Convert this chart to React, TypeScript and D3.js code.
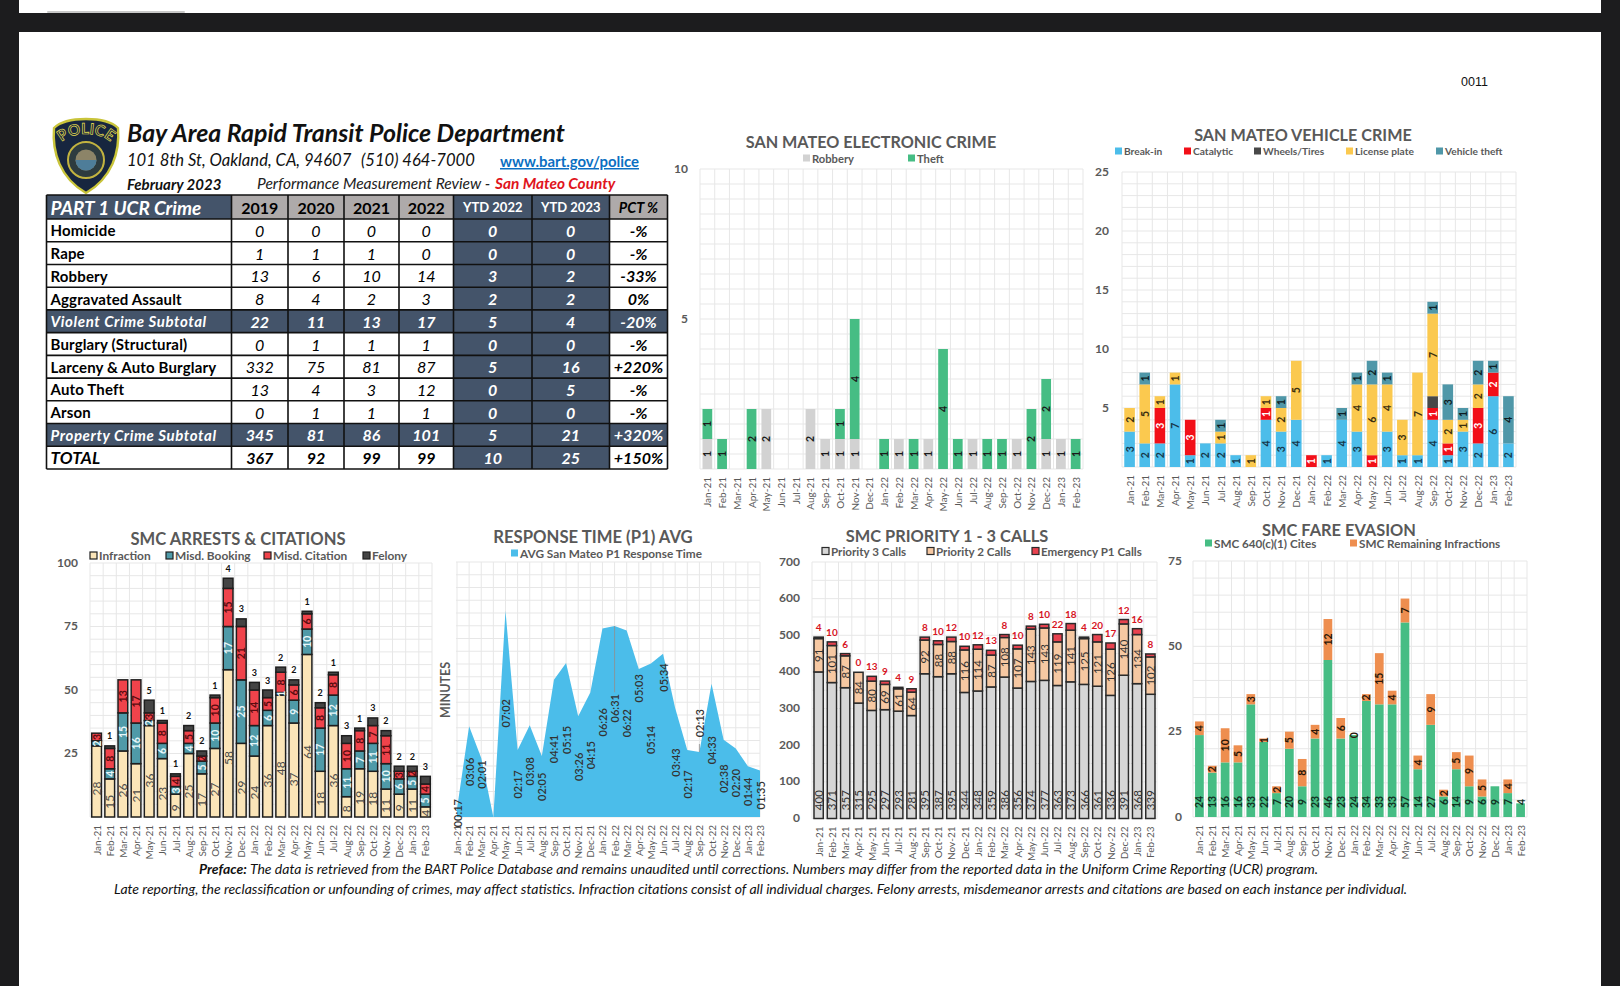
import { useEffect, useRef } from 'react';
import * as d3 from 'd3';

const months = [
  'Jan-21', 'Feb-21', 'Mar-21', 'Apr-21', 'May-21', 'Jun-21', 'Jul-21', 'Aug-21', 'Sep-21', 'Oct-21', 'Nov-21', 'Dec-21',
  'Jan-22', 'Feb-22', 'Mar-22', 'Apr-22', 'May-22', 'Jun-22', 'Jul-22', 'Aug-22', 'Sep-22', 'Oct-22', 'Nov-22', 'Dec-22',
  'Jan-23', 'Feb-23',
];

// UCR table
const ucrRows = ['Homicide', 'Rape', 'Robbery', 'Aggravated Assault', 'Violent Crime Subtotal', 'Burglary (Structural)', 'Larceny & Auto Burglary', 'Auto Theft', 'Arson', 'Property Crime Subtotal', 'TOTAL'];
const ucrHeaders = ['PART 1 UCR Crime', '2019', '2020', '2021', '2022', 'YTD 2022', 'YTD 2023', 'PCT %'];
const ucr2019 = ['0', '1', '13', '8', '22', '0', '332', '13', '0', '345', '367'];
const ucr2020 = ['0', '1', '6', '4', '11', '1', '75', '4', '1', '81', '92'];
const ucr2021 = ['0', '1', '10', '2', '13', '1', '81', '3', '1', '86', '99'];
const ucr2022 = ['0', '0', '14', '3', '17', '1', '87', '12', '1', '101', '99'];
const ucrYtd2022 = ['0', '0', '3', '2', '5', '0', '5', '0', '0', '5', '10'];
const ucrYtd2023 = ['0', '0', '2', '2', '4', '0', '16', '5', '0', '21', '25'];
const ucrPct = ['-%', '-%', '-33%', '0%', '-20%', '-%', '+220%', '-%', '-%', '+320%', '+150%'];

// Electronic crime
const robberyCounts = [1, 0, 0, 0, 2, 0, 0, 2, 1, 1, 1, 0, 0, 1, 0, 1, 0, 0, 1, 0, 0, 1, 0, 1, 1, 0];
const theftCounts = [1, 1, 0, 2, 0, 0, 0, 0, 0, 1, 4, 0, 1, 0, 1, 0, 4, 1, 0, 1, 1, 0, 2, 2, 0, 1];

// Vehicle crime
const breakInCounts = [3, 2, 2, 7, 1, 2, 2, 1, 0, 4, 3, 4, 0, 1, 4, 3, 0, 3, 1, 1, 4, 1, 3, 2, 6, 2];
const catalyticCounts = [0, 0, 3, 0, 3, 0, 0, 0, 0, 1, 0, 0, 1, 0, 0, 0, 1, 0, 0, 0, 1, 1, 0, 3, 2, 0];
const wheelsCounts = [0, 0, 0, 0, 0, 0, 0, 0, 0, 0, 0, 0, 0, 0, 0, 0, 0, 0, 0, 0, 1, 0, 0, 0, 0, 0];
const plateCounts = [2, 5, 1, 1, 0, 0, 1, 0, 1, 1, 2, 5, 0, 0, 0, 4, 6, 4, 3, 7, 7, 2, 1, 2, 0, 0];
const vehicleTheftCounts = [0, 1, 0, 0, 0, 0, 1, 0, 0, 0, 1, 0, 0, 0, 1, 1, 2, 1, 0, 0, 1, 3, 1, 2, 1, 4];

// Arrests and citations
const infractionCounts = [28, 15, 26, 21, 36, 23, 9, 25, 17, 27, 58, 29, 24, 36, 48, 37, 64, 18, 36, 8, 19, 18, 11, 9, 11, 4];
const bookingCounts = [2, 4, 15, 16, 2, 6, 3, 4, 5, 10, 17, 25, 12, 6, 1, 9, 10, 17, 12, 11, 7, 11, 10, 6, 5, 5];
const citationCounts = [3, 8, 13, 17, 3, 8, 4, 5, 2, 10, 15, 21, 14, 5, 8, 6, 6, 8, 8, 10, 8, 7, 11, 3, 2, 4];
const felonyCounts = [0, 1, 0, 0, 5, 1, 1, 2, 2, 1, 4, 3, 3, 3, 2, 2, 1, 2, 1, 3, 1, 3, 2, 2, 2, 3];

// Response time, mm:ss
const responseTimes = ['00:17', '03:06', '02:01', '00:00', '07:02', '02:17', '03:08', '02:05', '04:41', '05:15', '03:26', '04:15', '06:26', '06:31', '06:22', '05:03', '05:14', '05:34', '03:43', '02:17', '02:13', '04:33', '02:38', '02:20', '01:44', '01:35'];
// height (minutes) where the hand-moved label sits in the source chart
const responseLabelAt = [0.13, 1.54, 1.45, 0, 3.54, 1.11, 1.56, 1.03, 2.32, 2.63, 1.71, 2.11, 3.23, 3.71, 3.2, 4.39, 2.63, 4.76, 1.86, 1.11, 3.2, 2.28, 1.31, 1.16, 0.86, 0.74];

// Calls
const p3Calls = [400, 371, 357, 315, 295, 297, 293, 281, 395, 387, 395, 344, 348, 359, 386, 356, 374, 377, 363, 373, 366, 361, 336, 391, 368, 339];
const p2Calls = [91, 101, 87, 84, 80, 69, 61, 64, 92, 88, 88, 116, 114, 87, 108, 107, 143, 143, 119, 141, 125, 121, 126, 140, 134, 102];
const p1Calls = [4, 10, 6, 0, 13, 9, 4, 9, 8, 10, 12, 10, 12, 13, 8, 10, 8, 10, 22, 18, 4, 20, 17, 12, 16, 8];

// Fare evasion (null = no label in the source)
const fareCites = [24, 13, 16, 16, 33, 22, 7, 20, 9, 23, 46, 23, 24, 34, 33, 33, 57, 14, 27, 6, 14, 9, 6, 9, 7, 4];
const fareOther: (number | null)[] = [4, 2, 10, 5, 3, 1, 2, 5, 8, 4, 12, 6, 0, 2, 15, 4, 7, 4, 9, 2, 5, 9, 5, null, 4, null];

const FONT = 'Lato, sans-serif';
const GRAY = '#595959';

interface Series {
  name: string;
  values: (number | null)[];
  color: string;
  legendX: number;
  labelFill?: string;
  labelSize?: number;
  labelWeight?: string;
  keepZero?: boolean;
  above?: boolean;
  labelAt?: (v: number) => number;
}

interface BarChart {
  title: string;
  titleX: number;
  titleY: number;
  titleSize: number;
  legendY: number;
  legendSize: number;
  x0: number;
  x1: number;
  y0: number;
  y1: number;
  max: number;
  gridStep: number;
  ticks: number[];
  tickX: number;
  pad: number;
  outline?: string;
  series: Series[];
}

type Sel = d3.Selection<any, unknown, null, undefined>;

function drawFrame(g: Sel, c: { title: string; titleX: number; titleY: number; titleSize: number; x0: number; x1: number; y0: number; y1: number; max: number; gridStep: number }) {
  const y = d3.scaleLinear().domain([0, c.max]).range([c.y1, c.y0]);
  d3.range(0, c.max + c.gridStep / 2, c.gridStep).forEach(v => {
    g.append('line').attr('x1', c.x0).attr('x2', c.x1).attr('y1', y(v)).attr('y2', y(v)).attr('stroke', '#e7e7e7').attr('stroke-width', 1);
  });
  g.append('text')
    .attr('x', c.titleX).attr('y', c.titleY).attr('text-anchor', 'middle').attr('dominant-baseline', 'central')
    .attr('font-size', c.titleSize).attr('font-weight', 700).attr('fill', GRAY)
    .text(c.title);
  return y;
}

function drawMonths(g: Sel, xs: (m: string) => number, y1: number) {
  months.forEach(m => {
    g.append('text')
      .attr('transform', `translate(${xs(m)},${y1 + 8}) rotate(-90)`)
      .attr('text-anchor', 'end').attr('dominant-baseline', 'central')
      .attr('font-size', 10).attr('fill', GRAY)
      .text(m);
  });
}

function drawLegendItem(g: Sel, x: number, y: number, name: string, color: string, size: number, outline?: string) {
  g.append('rect').attr('x', x).attr('y', y - 3.5).attr('width', 7).attr('height', 7).attr('fill', color)
    .attr('stroke', outline ?? 'none').attr('stroke-width', outline ? 1.2 : 0);
  g.append('text').attr('x', x + 9).attr('y', y).attr('dominant-baseline', 'central')
    .attr('font-size', size).attr('font-weight', 700).attr('fill', GRAY).text(name);
}

function drawBarChart(svg: Sel, c: BarChart) {
  const g = svg.append('g').attr('font-family', FONT);
  const y = drawFrame(g, c);

  const band = d3.scaleBand<string>().domain(months).range([c.x0, c.x1]).paddingInner(c.pad).paddingOuter(c.pad / 2);
  d3.range(0, months.length + 1).forEach(i => {
    const vx = c.x0 + (i * (c.x1 - c.x0)) / months.length;
    g.append('line').attr('x1', vx).attr('x2', vx).attr('y1', c.y0).attr('y2', c.y1).attr('stroke', '#e7e7e7');
  });

  c.ticks.forEach(t => {
    g.append('text').attr('x', c.tickX).attr('y', y(t) - 1).attr('text-anchor', 'end').attr('dominant-baseline', 'central')
      .attr('font-size', 12).attr('font-weight', 700).attr('fill', GRAY).text(t);
  });

  const rows = months.map((m, i) => {
    const row: Record<string, number> = {};
    c.series.forEach(s => { row[s.name] = s.values[i] ?? 0; });
    return { month: m, ...row };
  });
  const layers = d3.stack<any>().keys(c.series.map(s => s.name))(rows);

  layers.forEach((layer, si) => {
    const s = c.series[si];
    layer.forEach((d, i) => {
      const v = d[1] - d[0];
      if (v <= 0) return;
      g.append('rect')
        .attr('x', band(months[i])!).attr('width', band.bandwidth())
        .attr('y', y(d[1])).attr('height', y(d[0]) - y(d[1]))
        .attr('fill', s.color)
        .attr('stroke', c.outline ?? 'none').attr('stroke-width', c.outline ? 1.5 : 0);
    });
  });

  // labels go on top of every bar
  layers.forEach((layer, si) => {
    const s = c.series[si];
    layer.forEach((d, i) => {
      const raw = s.values[i];
      if (raw == null || (raw === 0 && !s.keepZero)) return;
      const cx = band(months[i])! + band.bandwidth() / 2;
      const t = g.append('text').attr('text-anchor', 'middle').attr('dominant-baseline', 'central')
        .attr('font-size', s.labelSize ?? 10.5).attr('font-weight', s.labelWeight ?? '700').attr('fill', s.labelFill ?? '#1a1a1a')
        .text(raw);
      if (s.above) {
        t.attr('x', cx).attr('y', y(d[1]) - 10);
      } else {
        const at = s.labelAt ? s.labelAt(raw) : (d[0] + d[1]) / 2;
        t.attr('transform', `translate(${cx},${y(at)}) rotate(-90)`);
      }
    });
  });

  drawMonths(g, m => band(m)! + band.bandwidth() / 2, c.y1);
  c.series.forEach(s => drawLegendItem(g, s.legendX, c.legendY, s.name, s.color, c.legendSize, c.outline));
}

function drawResponse(svg: Sel) {
  const g = svg.append('g').attr('font-family', FONT);
  const c = { title: 'RESPONSE TIME (P1) AVG', titleX: 593, titleY: 537, titleSize: 16.7, x0: 456, x1: 760, y0: 562, y1: 817, max: 8.7, gridStep: 0.435 };
  const y = drawFrame(g, c);
  const x = d3.scalePoint<string>().domain(months).range([c.x0 + 1, c.x1]);
  months.forEach(m => {
    g.append('line').attr('x1', x(m)!).attr('x2', x(m)!).attr('y1', c.y0).attr('y2', c.y1).attr('stroke', '#e7e7e7');
  });

  const toMinutes = (s: string) => {
    const [mm, ss] = s.split(':').map(Number);
    return mm + ss / 60;
  };
  const area = d3.area<string>()
    .x((_, i) => x(months[i])!)
    .y0(c.y1)
    .y1(d => y(toMinutes(d)));
  g.append('path').attr('d', area(responseTimes)).attr('fill', '#4bbdea');

  drawMonths(g, m => x(m)!, c.y1);

  // the two labels dragged off their point keep a thin leader
  ['Feb-22', 'Sep-22'].forEach(m => {
    const i = months.indexOf(m);
    const from = y(toMinutes(responseTimes[i]));
    const to = y(responseLabelAt[i]);
    g.append('line').attr('x1', x(m)!).attr('x2', x(m)!).attr('y1', from)
      .attr('y2', m === 'Sep-22' ? from - 8 : to - 16).attr('stroke', '#8f8f8f').attr('stroke-width', 0.8);
  });

  responseTimes.forEach((t, i) => {
    if (t === '00:00') return;
    g.append('text')
      .attr('transform', `translate(${x(months[i])},${y(responseLabelAt[i])}) rotate(-90)`)
      .attr('text-anchor', 'middle').attr('dominant-baseline', 'central')
      .attr('font-size', 11).attr('font-weight', 600).attr('fill', '#333')
      .text(t);
  });

  g.append('text').attr('transform', 'translate(445,690) rotate(-90)').attr('text-anchor', 'middle').attr('dominant-baseline', 'central')
    .attr('font-size', 12.5).attr('font-weight', 700).attr('fill', GRAY).text('MINUTES');
  drawLegendItem(g, 511, 553, 'AVG San Mateo P1 Response Time', '#4bbdea', 11.8);
}

function drawTable(svg: Sel) {
  const g = svg.append('g').attr('font-family', FONT);
  const edges = [46.5, 231.5, 288, 344, 399, 453.5, 532, 609.5, 667.5];
  const columns = [ucr2019, ucr2020, ucr2021, ucr2022, ucrYtd2022, ucrYtd2023, ucrPct];
  const top = 195, headH = 24, bottom = 469;
  const rowY = d3.scaleBand<string>().domain(ucrRows).range([top + headH, bottom]);
  const DARK = '#44546a';
  const isDark = (r: string) => r.includes('Subtotal');

  ucrHeaders.forEach((h, i) => {
    const x = edges[i], w = edges[i + 1] - edges[i];
    const dark = i === 0 || i === 5 || i === 6;
    g.append('rect').attr('x', x).attr('y', top).attr('width', w).attr('height', headH).attr('fill', dark ? DARK : '#aeaaaa');
    g.append('text')
      .attr('x', i === 0 ? x + 4 : x + w / 2).attr('y', top + headH / 2)
      .attr('text-anchor', i === 0 ? 'start' : 'middle').attr('dominant-baseline', 'central')
      .attr('font-weight', 700).attr('font-style', i === 0 || i === 7 ? 'italic' : 'normal')
      .attr('font-size', i === 0 ? 19 : i < 5 ? 16 : i === 7 ? 14.5 : 13).attr('fill', dark ? '#fff' : '#000')
      .text(h);
  });

  ucrRows.forEach((r, ri) => {
    const ry = rowY(r)!, rh = rowY.bandwidth();
    const dark = isDark(r);
    g.append('rect').attr('x', edges[0]).attr('y', ry).attr('width', edges[1] - edges[0]).attr('height', rh).attr('fill', dark ? DARK : '#fff');
    g.append('text').attr('x', edges[0] + 4).attr('y', ry + rh / 2).attr('dominant-baseline', 'central')
      .attr('font-weight', 700).attr('font-style', dark || r === 'TOTAL' ? 'italic' : 'normal')
      .attr('letter-spacing', dark ? 0.6 : 0.15)
      .attr('font-size', r === 'TOTAL' ? 17 : 15).attr('fill', dark ? '#fff' : '#000')
      .text(r);
    columns.forEach((col, ci) => {
      const x = edges[ci + 1], w = edges[ci + 2] - edges[ci + 1];
      const ytd = ci === 4 || ci === 5;
      const fill = dark || ytd ? DARK : '#fff';
      const strong = dark || ytd || ci === 6 || r === 'TOTAL';
      g.append('rect').attr('x', x).attr('y', ry).attr('width', w).attr('height', rh).attr('fill', fill);
      g.append('text').attr('x', x + w / 2).attr('y', ry + rh / 2).attr('text-anchor', 'middle').attr('dominant-baseline', 'central')
        .attr('font-style', 'italic').attr('font-weight', strong ? 700 : 400)
        .attr('font-size', 16).attr('fill', dark || ytd ? '#fff' : '#000')
        .text(col[ri]);
    });
  });

  // borders, black on the light cells
  const ys = [top, top + headH, ...ucrRows.map(r => rowY(r)! + rowY.bandwidth())];
  ys.forEach(v => {
    g.append('line').attr('x1', edges[0]).attr('x2', edges[8]).attr('y1', v).attr('y2', v).attr('stroke', '#111').attr('stroke-width', 1.6);
  });
  edges.forEach(v => {
    g.append('line').attr('x1', v).attr('x2', v).attr('y1', top).attr('y2', bottom).attr('stroke', '#111').attr('stroke-width', 1.6);
  });
}

function drawBadge(svg: Sel) {
  const shield = 'M86 119 C102 119 112 122 118 128 C120 152 112 178 86 193 C60 178 52 152 54 128 C60 122 70 119 86 119 Z';
  const g = svg.append('g').attr('font-family', FONT);
  g.append('path').attr('d', shield).attr('fill', '#17263f').attr('stroke', '#c9c43a').attr('stroke-width', 2.4);
  const defs = g.append('defs');
  defs.append('path').attr('id', 'badge-arc').attr('d', 'M60 146 C64 130 108 130 112 146');
  g.append('text').attr('font-size', 15).attr('font-weight', 700).attr('fill', '#17263f').attr('stroke', '#e2dc4e').attr('stroke-width', 0.7)
    .append('textPath').attr('href', '#badge-arc').attr('startOffset', '50%').attr('text-anchor', 'middle').text('POLICE');
  g.append('circle').attr('cx', 86).attr('cy', 160).attr('r', 18).attr('fill', '#2d3b3f').attr('stroke', '#c2b340').attr('stroke-width', 2);
  g.append('circle').attr('cx', 86).attr('cy', 160).attr('r', 10.5).attr('fill', '#8c8468');
  g.append('path').attr('d', 'M75.5 160 A10.5 10.5 0 0 0 96.5 160 Z').attr('fill', '#4e7d99');
}

function drawHeader(svg: Sel) {
  const g = svg.append('g').attr('font-family', FONT);
  g.append('text').attr('x', 127).attr('y', 142).attr('font-size', 24.9).attr('font-weight', 700).attr('font-style', 'italic').attr('fill', '#111')
    .text('Bay Area Rapid Transit Police Department');
  g.append('text').attr('x', 127).attr('y', 166).attr('font-size', 16.6).attr('font-style', 'italic').attr('fill', '#111')
    .text('101 8th St, Oakland, CA, 94607');
  g.append('text').attr('x', 361).attr('y', 166).attr('font-size', 16.6).attr('font-style', 'italic').attr('fill', '#111')
    .text('(510) 464-7000');
  g.append('text').attr('x', 500).attr('y', 167).attr('font-size', 14.9).attr('font-weight', 700).attr('fill', '#0b6fc2').attr('text-decoration', 'underline')
    .text('www.bart.gov/police');
  g.append('text').attr('x', 127).attr('y', 190).attr('font-size', 15).attr('font-weight', 700).attr('font-style', 'italic').attr('fill', '#111')
    .text('February 2023');
  g.append('text').attr('x', 257).attr('y', 189).attr('font-size', 15.6).attr('font-style', 'italic').attr('fill', '#222')
    .text('Performance Measurement Review -');
  g.append('text').attr('x', 495).attr('y', 189).attr('font-size', 15.4).attr('font-weight', 700).attr('font-style', 'italic').attr('fill', '#e0141c')
    .text('San Mateo County');

  const note = svg.append('g').attr('font-family', FONT).attr('font-style', 'italic').attr('font-size', 14).attr('fill', '#111');
  const first = note.append('text').attr('x', 199).attr('y', 874);
  first.append('tspan').attr('font-weight', 700).text('Preface:  ');
  first.append('tspan').text('The data is retrieved from the BART Police Database and remains unaudited until corrections. Numbers may differ from the reported data in the Uniform Crime Reporting (UCR) program.');
  note.append('text').attr('x', 114).attr('y', 894)
    .text('Late reporting, the reclassification or unfounding of crimes, may affect statistics. Infraction citations consist of all individual charges. Felony arrests, misdemeanor arrests and citations are based on each instance per individual.');

  svg.append('text').attr('x', 1461).attr('y', 86).attr('font-family', '"Liberation Sans", sans-serif').attr('font-size', 12.5).attr('fill', '#111').text('0011');
}

export default function App() {
  const svgRef = useRef<SVGSVGElement>(null);

  useEffect(() => {
    const svg = d3.select(svgRef.current) as unknown as Sel;
    svg.selectAll('*').remove();

    // scanned page inside a dark viewer frame
    svg.append('rect').attr('width', 1620).attr('height', 986).attr('fill', '#1c1c1e');
    svg.append('rect').attr('x', 19).attr('width', 1582).attr('height', 13).attr('fill', '#fff');
    svg.append('rect').attr('x', 47).attr('y', 11).attr('width', 138).attr('height', 2).attr('rx', 1).attr('fill', '#c8c8c8');
    svg.append('rect').attr('x', 19).attr('y', 32).attr('width', 1582).attr('height', 954).attr('fill', '#fff');

    drawBadge(svg);
    drawHeader(svg);
    drawTable(svg);

    drawBarChart(svg, {
      title: 'SAN MATEO ELECTRONIC CRIME', titleX: 871, titleY: 141, titleSize: 16.2, legendY: 158, legendSize: 11.2,
      x0: 700, x1: 1083, y0: 169, y1: 469, max: 10, gridStep: 0.5, ticks: [5, 10], tickX: 688, pad: 0.34,
      series: [
        { name: 'Robbery', values: robberyCounts, color: '#d2d2d2', legendX: 803 },
        { name: 'Theft', values: theftCounts, color: '#46bd84', legendX: 908 },
      ],
    });

    drawBarChart(svg, {
      title: 'SAN MATEO VEHICLE CRIME', titleX: 1303, titleY: 134, titleSize: 16.2, legendY: 151, legendSize: 10.2,
      x0: 1122, x1: 1516, y0: 172, y1: 467, max: 25, gridStep: 1, ticks: [5, 10, 15, 20, 25], tickX: 1109, pad: 0.3,
      series: [
        { name: 'Break-in', values: breakInCounts, color: '#4cbdea', legendX: 1115, labelFill: '#17384a' },
        { name: 'Catalytic', values: catalyticCounts, color: '#f20f18', legendX: 1184, labelFill: '#fff' },
        { name: 'Wheels/Tires', values: wheelsCounts.map(v => v || null), color: '#484848', legendX: 1254, labelFill: 'none' },
        { name: 'License plate', values: plateCounts, color: '#fbc94f', legendX: 1346, labelFill: '#3a2f10' },
        { name: 'Vehicle theft', values: vehicleTheftCounts, color: '#4f97a8', legendX: 1436, labelFill: '#0e1c22' },
      ],
    });

    drawBarChart(svg, {
      title: 'SMC ARRESTS & CITATIONS', titleX: 238, titleY: 539, titleSize: 16.6, legendY: 555.5, legendSize: 11.9,
      x0: 90, x1: 432, y0: 563, y1: 817, max: 100, gridStep: 5, ticks: [25, 50, 75, 100], tickX: 78, pad: 0.26, outline: '#1e1e1e',
      series: [
        { name: 'Infraction', values: infractionCounts, color: '#fbe5b8', legendX: 90, labelFill: '#4a4a4a', labelSize: 12, labelWeight: '400', labelAt: v => v * 0.4 },
        { name: 'Misd. Booking', values: bookingCounts, color: '#4f9aa8', legendX: 166, labelFill: '#e8f7fa' },
        { name: 'Misd. Citation', values: citationCounts, color: '#f0434b', legendX: 264, labelFill: '#5a0c10' },
        { name: 'Felony', values: felonyCounts, color: '#444444', legendX: 363, labelFill: '#111', labelSize: 9, above: true },
      ],
    });

    drawResponse(svg);

    drawBarChart(svg, {
      title: 'SMC PRIORITY 1 - 3 CALLS', titleX: 947, titleY: 535, titleSize: 16.4, legendY: 551, legendSize: 11.6,
      x0: 812, x1: 1157, y0: 562, y1: 818.5, max: 700, gridStep: 50, ticks: [0, 100, 200, 300, 400, 500, 600, 700], tickX: 800, pad: 0.3, outline: '#2a2a2a',
      series: [
        { name: 'Priority 3 Calls', values: p3Calls, color: '#d6d6d6', legendX: 822, labelFill: '#333', labelSize: 11.5, labelWeight: '400', labelAt: () => 50 },
        { name: 'Priority 2 Calls', values: p2Calls, color: '#f6c8a2', legendX: 927, labelFill: '#333', labelSize: 11.5, labelWeight: '400' },
        { name: 'Emergency P1 Calls', values: p1Calls, color: '#e8424f', legendX: 1032, labelFill: '#d7141f', labelSize: 10, keepZero: true, above: true },
      ],
    });

    drawBarChart(svg, {
      title: 'SMC FARE EVASION', titleX: 1339, titleY: 529, titleSize: 16.4, legendY: 543, legendSize: 11.7,
      x0: 1193, x1: 1527, y0: 561, y1: 817, max: 75, gridStep: 5, ticks: [0, 25, 50, 75], tickX: 1182, pad: 0.32,
      series: [
        { name: 'SMC 640(c)(1) Cites', values: fareCites, color: '#46bd84', legendX: 1205, labelFill: '#10301f', labelAt: () => 4.4 },
        { name: 'SMC Remaining Infractions', values: fareOther, color: '#ee8e4f', legendX: 1350, labelFill: '#2a1608', keepZero: true },
      ],
    });
  }, []);

  return (
    <svg
      ref={svgRef}
      width={1620}
      height={986}
      viewBox="0 0 1620 986"
      style={{ position: 'absolute', left: 0, top: 0, display: 'block' }}
    />
  );
}
